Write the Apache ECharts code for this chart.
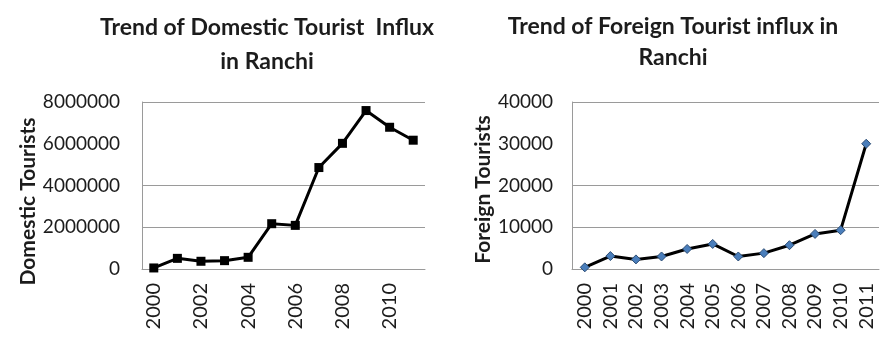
<!DOCTYPE html>
<html>
<head>
<meta charset="utf-8">
<script src="https://cdn.jsdelivr.net/npm/echarts@6/dist/echarts.min.js"></script>
<style>
  html, body { margin: 0; padding: 0; background: #fff; }
  #chart { width: 881px; height: 343px; }
</style>
</head>
<body>
<div id="chart"></div>
<script>
// Years shared by both panels
const years = ['2000','2001','2002','2003','2004','2005','2006','2007','2008','2009','2010','2011'];

// Domestic tourist arrivals in Ranchi
const domesticTourists = [50000, 510000, 370000, 400000, 560000, 2170000, 2090000, 4860000, 6020000, 7590000, 6790000, 6170000];

// Foreign tourist arrivals in Ranchi
const foreignTourists = [400, 3100, 2300, 3000, 4800, 6000, 3000, 3800, 5700, 8400, 9300, 30000];

// Value-axis ticks
const domesticTicks = [0, 2000000, 4000000, 6000000, 8000000];
const foreignTicks = [0, 10000, 20000, 30000, 40000];

const FONT = 'Lato, "Open Sans", sans-serif';
const TEXT = '#1c1c1c';
const GRID = '#9a9a9a';

function valueAxis(gridIndex, ticks, name, nameGap, labelMargin, nameShift) {
  return {
    type: 'value',
    gridIndex,
    min: ticks[0],
    max: ticks[ticks.length - 1],
    interval: ticks[1] - ticks[0],
    name,
    nameLocation: 'middle',
    nameGap,
    // right padding on the rotated name nudges it down along the axis
    nameTextStyle: { fontFamily: FONT, fontWeight: 'bold', fontSize: 21, color: TEXT, padding: [0, nameShift, 0, 0] },
    axisLine: { show: true, lineStyle: { color: GRID, width: 1 } },
    axisTick: { show: false },
    axisLabel: { fontFamily: FONT, fontSize: 19, color: TEXT, margin: labelMargin, formatter: v => String(v) },
    splitLine: { show: true, lineStyle: { color: [GRID, GRID, GRID, 'rgba(0,0,0,0)', GRID], width: 1 } }
  };
}

function categoryAxis(gridIndex, labelInterval) {
  return {
    type: 'category',
    gridIndex,
    data: years,
    boundaryGap: true,
    axisLine: { show: true, lineStyle: { color: GRID, width: 1 } },
    axisTick: { show: false },
    axisLabel: { fontFamily: FONT, fontSize: 20, color: TEXT, rotate: 90, margin: 14, interval: labelInterval }
  };
}

const chart = echarts.init(document.getElementById('chart'), null, { renderer: 'canvas' });
chart.setOption({
  animation: false,
  backgroundColor: '#ffffff',
  title: [
    {
      text: 'Trend of Domestic Tourist  Influx\nin Ranchi',
      left: 262, top: 6, textAlign: 'center',
      textStyle: { fontFamily: FONT, fontWeight: 'bold', fontSize: 23, color: TEXT, lineHeight: 34 }
    },
    {
      text: 'Trend of Foreign Tourist influx in\nRanchi',
      left: 668, top: 6, textAlign: 'center',
      textStyle: { fontFamily: FONT, fontWeight: 'bold', fontSize: 23, color: TEXT, lineHeight: 31 }
    }
  ],
  grid: [
    { left: 142, right: 456, top: 102, bottom: 74, containLabel: false },
    { left: 572, right: 2, top: 102, bottom: 74, containLabel: false }
  ],
  xAxis: [categoryAxis(0, 1), categoryAxis(1, 0)],
  yAxis: [
    valueAxis(0, domesticTicks, 'Domestic Tourists', 97, 22, 32),
    valueAxis(1, foreignTicks, 'Foreign Tourists', 76, 19, 8)
  ],
  series: [
    {
      type: 'line',
      xAxisIndex: 0, yAxisIndex: 0,
      data: domesticTourists,
      symbol: 'rect', symbolSize: 9,
      lineStyle: { color: '#000', width: 3 },
      itemStyle: { color: '#000' }
    },
    {
      type: 'line',
      xAxisIndex: 1, yAxisIndex: 1,
      data: foreignTourists,
      symbol: 'diamond', symbolSize: 9,
      lineStyle: { color: '#000', width: 3 },
      itemStyle: { color: '#4a7ebb', borderColor: '#2c4d75', borderWidth: 1 }
    }
  ]
});
</script>
</body>
</html>
